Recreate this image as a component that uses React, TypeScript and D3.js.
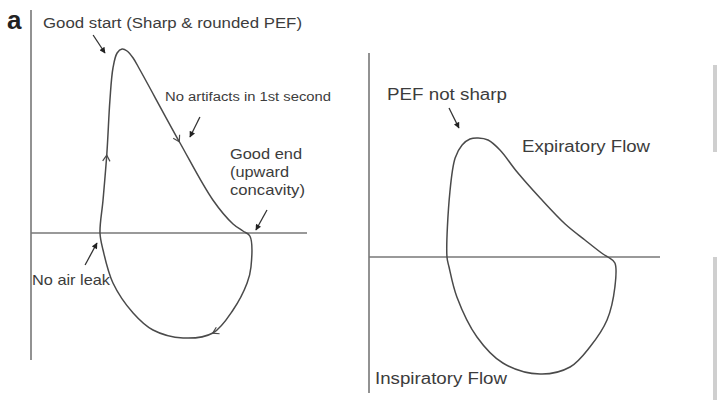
import React, { useRef, useEffect } from 'react';
import * as d3 from 'd3';

type Pt = [number, number];

// flow-volume loops: [volume, flow], expiration up
const goodLoop: Pt[] = [
  [2.5, 0], [2.61, 1.32], [2.75, 3.2], [2.86, 5.32], [2.97, 6.6], [3.12, 7.2],
  [3.3, 7.36], [3.48, 7.28], [3.7, 7.0], [3.95, 6.52], [5.4, 3.6], [6.59, 1.32],
  [7.32, 0.36], [7.68, 0.08], [7.93, -0.12], [7.97, -1.36], [7.83, -2.0],
  [7.32, -3.08], [6.59, -4.0], [5.51, -4.2], [4.42, -3.88], [3.7, -3.2],
  [2.97, -2.0], [2.61, -0.68],
];

const poorLoop: Pt[] = [
  [2.68, 0], [2.78, 2.6], [2.96, 3.96], [3.2, 4.48], [3.47, 4.72], [3.75, 4.76],
  [4.09, 4.68], [4.5, 4.28], [5.09, 3.4], [5.88, 2.36], [6.74, 1.32], [7.42, 0.68],
  [8.04, 0.12], [8.21, 0], [8.45, -0.24], [8.45, -1.2], [8.18, -2.52],
  [7.59, -3.6], [6.91, -4.4], [5.88, -4.68], [4.6, -4.24], [3.71, -3.2],
  [3.02, -1.6], [2.75, -0.4],
];

// direction chevrons drawn on the good loop
const goodFlowArrows: Pt[] = [[2.75, 3.12], [5.29, 3.6], [6.59, -4.04]];

// pointer arrows: [from, to] in the panel's units
const goodPointers: [Pt, Pt][] = [
  [[2.25, 7.92], [2.68, 7.2]],
  [[6.12, 4.64], [5.76, 3.84]],
  [[8.55, 0.92], [8.15, 0.12]],
  [[1.96, -1.28], [2.39, -0.4]],
];
const poorPointers: [Pt, Pt][] = [[[2.75, 5.96], [3.09, 5.16]]];

const goodLabels = ['Good start (Sharp & rounded PEF)', 'No artifacts in 1st second', 'Good end', '(upward', 'concavity)', 'No air leak'];
const poorLabels = ['PEF not sharp', 'Expiratory Flow', 'Inspiratory Flow'];

const W = 719;
const H = 400;
const FONT = '"Liberation Sans", Arial, sans-serif';
const TEXT = '#3c3c3c';

const App: React.FC = () => {
  const svgRef = useRef<SVGSVGElement | null>(null);

  useEffect(() => {
    const svg = d3.select(svgRef.current);
    svg.selectAll('*').remove();

    svg.append('rect').attr('width', W).attr('height', H).attr('fill', '#fff');

    const defs = svg.append('defs');
    defs
      .append('marker')
      .attr('id', 'tip')
      .attr('viewBox', '0 0 10 10')
      .attr('refX', 9)
      .attr('refY', 5)
      .attr('markerWidth', 8)
      .attr('markerHeight', 6)
      .attr('markerUnits', 'userSpaceOnUse')
      .attr('orient', 'auto')
      .append('path')
      .attr('d', 'M0,0 L10,5 L0,10 Z')
      .attr('fill', '#222');

    const drawPanel = (
      loop: Pt[],
      x: d3.ScaleLinear<number, number>,
      y: d3.ScaleLinear<number, number>,
      pointers: [Pt, Pt][],
      flowArrows: Pt[]
    ) => {
      const g = svg.append('g');
      const [x0, x1] = x.range();
      const [yb, yt] = y.range();
      // axes
      g.append('line')
        .attr('x1', x0).attr('x2', x0).attr('y1', yt).attr('y2', yb)
        .attr('stroke', '#777').attr('stroke-width', 1.6);
      g.append('line')
        .attr('x1', x0).attr('x2', x1).attr('y1', y(0)).attr('y2', y(0))
        .attr('stroke', '#777').attr('stroke-width', 1.6);

      const line = d3
        .line<Pt>()
        .x((d) => x(d[0]))
        .y((d) => y(d[1]))
        .curve(d3.curveCatmullRomClosed.alpha(0.5));

      const path = g
        .append('path')
        .attr('d', line(loop))
        .attr('fill', 'none')
        .attr('stroke', '#4a4a4a')
        .attr('stroke-width', 1.5);

      // chevrons showing the direction of travel
      const node = path.node() as SVGPathElement;
      const total = node.getTotalLength();
      flowArrows.forEach(([v, f]) => {
        const px = x(v);
        const py = y(f);
        let best = 0;
        let bestD = Infinity;
        for (let s = 0; s <= total; s += 1) {
          const p = node.getPointAtLength(s);
          const d = (p.x - px) ** 2 + (p.y - py) ** 2;
          if (d < bestD) {
            bestD = d;
            best = s;
          }
        }
        const a = node.getPointAtLength(best);
        const b = node.getPointAtLength(Math.min(total, best + 2));
        const ang = Math.atan2(b.y - a.y, b.x - a.x);
        const len = 7;
        const spread = 0.55;
        const pts: Pt[] = [
          [a.x - len * Math.cos(ang - spread), a.y - len * Math.sin(ang - spread)],
          [a.x, a.y],
          [a.x - len * Math.cos(ang + spread), a.y - len * Math.sin(ang + spread)],
        ];
        g.append('path')
          .attr('d', d3.line()(pts))
          .attr('fill', 'none')
          .attr('stroke', '#4a4a4a')
          .attr('stroke-width', 1.2);
      });

      pointers.forEach(([from, to]) => {
        g.append('line')
          .attr('x1', x(from[0])).attr('y1', y(from[1]))
          .attr('x2', x(to[0])).attr('y2', y(to[1]))
          .attr('stroke', '#333').attr('stroke-width', 1.3)
          .attr('marker-end', 'url(#tip)');
      });
      return g;
    };

    const label = (
      g: d3.Selection<SVGGElement, unknown, null, undefined>,
      text: string,
      tx: number,
      ty: number,
      size: number,
      width: number
    ) => {
      g.append('text')
        .attr('x', tx)
        .attr('y', ty)
        .attr('font-family', FONT)
        .attr('font-size', size)
        .attr('fill', TEXT)
        .attr('textLength', width)
        .attr('lengthAdjust', 'spacingAndGlyphs')
        .text(text);
    };

    // left panel (a)
    const xL = d3.scaleLinear().domain([0, 10]).range([31, 307]);
    const yL = d3.scaleLinear().domain([-5.08, 8.92]).range([360, 10]);
    const gL = drawPanel(goodLoop, xL, yL, goodPointers, goodFlowArrows);
    gL.append('text')
      .attr('x', 7).attr('y', 29)
      .attr('font-family', FONT).attr('font-weight', 'bold')
      .attr('font-size', 26).attr('fill', '#222')
      .text('a');
    label(gL, goodLabels[0], 43, 28, 14, 259);
    label(gL, goodLabels[1], 165, 101, 12, 166);
    label(gL, goodLabels[2], 230, 159, 15, 72);
    label(gL, goodLabels[3], 230, 177, 15, 59);
    label(gL, goodLabels[4], 230, 195, 15, 75);
    label(gL, goodLabels[5], 32, 285, 15, 78);

    // right panel
    const xR = d3.scaleLinear().domain([0, 10]).range([369, 660]);
    const yR = d3.scaleLinear().domain([-5.44, 8.16]).range([393, 53]);
    const gR = drawPanel(poorLoop, xR, yR, poorPointers, []);
    label(gR, poorLabels[0], 387, 100, 16, 120);
    label(gR, poorLabels[1], 522, 152, 16, 128);
    label(gR, poorLabels[2], 375, 384, 16, 132);

    // cropped edge of the next panel
    svg.append('rect').attr('x', 713).attr('y', 65).attr('width', 4).attr('height', 87).attr('fill', '#cfcfcf');
    svg.append('rect').attr('x', 713).attr('y', 257).attr('width', 4).attr('height', 143).attr('fill', '#cfcfcf');
  }, []);

  return (
    <svg
      ref={svgRef}
      width={W}
      height={H}
      style={{ position: 'absolute', left: 0, top: 0, display: 'block' }}
    />
  );
};

export default App;
